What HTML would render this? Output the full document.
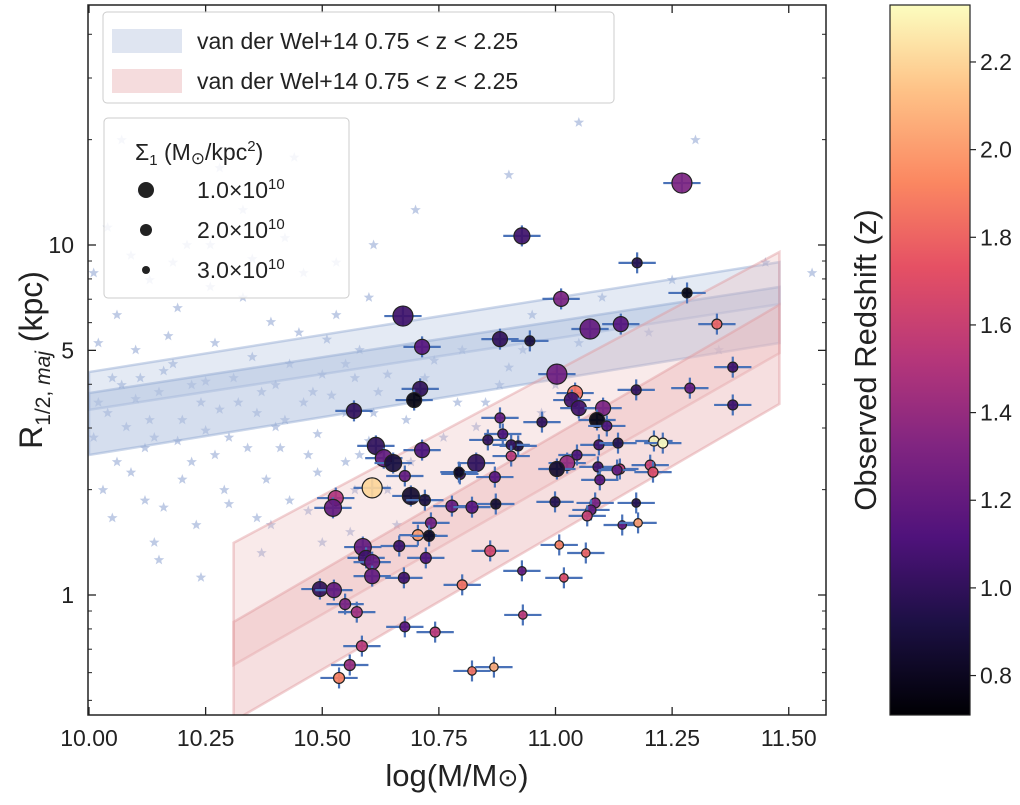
<!DOCTYPE html>
<html><head><meta charset="utf-8"><style>
html,body{margin:0;padding:0;background:#fff}
svg{display:block;font-family:"Liberation Sans","DejaVu Sans",sans-serif}
</style></head><body>
<svg id="chart" width="1020" height="805" viewBox="0 0 1020 805" xmlns="http://www.w3.org/2000/svg">
<defs>
<clipPath id="plotclip"><rect x="88" y="5" width="738" height="710"/></clipPath>
<linearGradient id="magma" x1="0" y1="1" x2="0" y2="0">
<stop offset="0" stop-color="#000004"/><stop offset="0.13" stop-color="#1c1044"/><stop offset="0.25" stop-color="#4f127b"/><stop offset="0.38" stop-color="#812581"/><stop offset="0.5" stop-color="#b5367a"/><stop offset="0.63" stop-color="#e55064"/><stop offset="0.75" stop-color="#fb8761"/><stop offset="0.88" stop-color="#fec287"/><stop offset="1" stop-color="#fcfdbf"/>
</linearGradient>
</defs>
<g id="plot" clip-path="url(#plotclip)"></g>
<rect x="88" y="5" width="738" height="710" fill="none" stroke="#222" stroke-width="1.5"/>
<g id="axes"></g>
<text x="457" y="786" font-size="31" text-anchor="middle" fill="#222">log(M/M<tspan font-size="25">⊙</tspan>)</text>
<text transform="translate(42,360) rotate(-90)" font-size="32" text-anchor="middle" fill="#222">R<tspan font-size="21" dy="8">1/2, <tspan font-style="italic">maj</tspan></tspan><tspan dy="-8"> (kpc)</tspan></text>

<g>
<rect x="103" y="12" width="511" height="91" rx="4" fill="#fff" fill-opacity="0.85" stroke="#ccc"/>
<rect x="112" y="29" width="70" height="24" fill="#dfe5f1"/>
<text x="197" y="49" font-size="23" fill="#222">van der Wel+14 0.75 &lt; z &lt; 2.25</text>
<rect x="112" y="69" width="70" height="24" fill="#f5dcdd"/>
<text x="197" y="89" font-size="23" fill="#222">van der Wel+14 0.75 &lt; z &lt; 2.25</text>
</g>
<g>
<rect x="104" y="118" width="245" height="180" rx="4" fill="#fff" fill-opacity="0.85" stroke="#ccc"/>
<text x="135" y="160" font-size="23" fill="#222">Σ<tspan font-size="15" dy="5">1</tspan><tspan dy="-5"> (M</tspan><tspan font-size="17" dy="4">⊙</tspan><tspan dy="-4">/kpc</tspan><tspan font-size="15" dy="-9">2</tspan><tspan dy="9">)</tspan></text>
<circle cx="146" cy="190" r="8" fill="#222"/>
<text x="197" y="198" font-size="23" fill="#222">1.0×10<tspan font-size="15" dy="-9">10</tspan></text>
<circle cx="146" cy="230" r="6" fill="#222"/>
<text x="197" y="238" font-size="23" fill="#222">2.0×10<tspan font-size="15" dy="-9">10</tspan></text>
<circle cx="146" cy="270" r="4" fill="#222"/>
<text x="197" y="278" font-size="23" fill="#222">3.0×10<tspan font-size="15" dy="-9">10</tspan></text>
</g>
<rect x="890" y="5" width="80" height="710" fill="url(#magma)" stroke="#222" stroke-width="1.2"/>
<g id="cbar"></g>
<text transform="translate(876,360) rotate(-90)" font-size="31" text-anchor="middle" fill="#222">Observed Redshift (z)</text>
</svg>
<script>
// ---- data ----
const xTicks = [10.00, 10.25, 10.50, 10.75, 11.00, 11.25, 11.50];
const xTickLabels = ["10.00","10.25","10.50","10.75","11.00","11.25","11.50"];
const yTicks = [1, 5, 10];
const yTickLabels = ["1","5","10"];
const cbarTicks = [0.8,1.0,1.2,1.4,1.6,1.8,2.0,2.2];
const cbarTickLabels = ["0.8","1.0","1.2","1.4","1.6","1.8","2.0","2.2"];
// van der Wel bands (log10 R at left/right mass)
const blueMass = [10.0, 11.48];
const blueBand1Upper = [0.637, 0.951];
const blueBand1Lower = [0.529, 0.831];
const blueBand2Upper = [0.577, 0.880];
const blueBand2Lower = [0.400, 0.720];
const redMass = [10.31, 11.48];
const redBand1Upper = [0.149, 0.980];
const redBand1Lower = [-0.200, 0.691];
const redBand2Upper = [-0.077, 0.829];
const redBand2Lower = [-0.360, 0.546];
// sample galaxies
const galMass = [11.271,10.928,11.175,11.282,11.012,11.140,11.346,10.673,10.881,11.074,11.003,11.042,11.035,11.050,11.102,11.089,11.110,11.173,11.288,11.380,11.380,11.211,11.230,11.093,11.134,11.046,11.025,11.003,11.091,11.138,11.132,11.203,11.209,11.095,10.999,11.173,11.085,11.076,11.068,11.143,11.177,11.008,11.065,11.018,10.971,10.714,10.710,10.697,10.568,10.945,10.881,10.887,10.855,10.920,10.615,10.714,10.632,10.652,10.830,10.905,10.905,10.677,10.795,10.793,10.870,10.607,10.529,10.523,10.690,10.720,10.778,10.821,10.872,10.733,10.705,10.729,10.665,10.587,10.594,10.607,10.722,10.860,10.607,10.675,10.495,10.525,10.549,10.574,10.800,10.928,10.930,10.677,10.742,10.585,10.559,10.536,10.821,10.868];
const galLogR = [1.177,1.026,0.949,0.863,0.846,0.774,0.774,0.797,0.731,0.760,0.631,0.577,0.557,0.534,0.534,0.500,0.483,0.586,0.591,0.651,0.543,0.440,0.434,0.429,0.434,0.400,0.377,0.360,0.366,0.360,0.357,0.371,0.351,0.329,0.266,0.263,0.263,0.243,0.226,0.200,0.206,0.143,0.120,0.049,0.494,0.709,0.589,0.557,0.526,0.726,0.506,0.460,0.443,0.426,0.426,0.414,0.391,0.377,0.377,0.429,0.397,0.340,0.346,0.351,0.337,0.306,0.277,0.249,0.283,0.271,0.254,0.251,0.260,0.206,0.171,0.169,0.140,0.137,0.106,0.094,0.106,0.126,0.054,0.049,0.017,0.014,-0.026,-0.049,0.029,0.069,-0.057,-0.091,-0.106,-0.146,-0.200,-0.237,-0.217,-0.206];
const galZ = [1.3,1.05,0.95,0.75,1.3,1.15,1.8,1.05,1.0,1.2,1.25,1.85,1.05,1.05,1.3,0.75,1.1,1.0,1.2,1.05,1.05,2.3,2.35,1.05,0.95,1.1,1.4,0.85,1.05,1.55,1.2,1.6,1.7,1.15,0.95,0.95,1.3,1.2,1.6,1.2,2.0,1.9,1.8,1.7,1.0,1.15,1.0,0.75,1.0,0.9,1.2,1.1,1.0,0.9,1.0,1.1,1.2,0.9,1.0,1.0,1.55,1.2,1.05,0.8,1.15,2.2,1.5,1.2,0.85,0.9,1.2,1.15,0.85,1.25,2.0,0.8,1.05,1.2,1.05,1.2,1.1,1.65,1.2,1.05,1.0,1.2,1.3,1.45,1.85,1.2,1.55,1.15,1.55,1.55,1.4,1.9,1.85,2.05];
const galSigma = [1,1.8,3,3,2,2,3,1,2,1,1,2,2,2,2,2,3,3,3,3,3,3,3,3,3,3,2,2,3,3,3,3,3,3,3,3.3,3,3,3,3.3,3.3,3.3,3.3,3.3,3,2,2,2,2,3,3,3,3,3,1.6,2,1.6,1.6,1.6,3,3,2.8,2.8,3,2.8,1,2,1.6,1.6,2.8,2.6,2.6,3,2.8,2.8,2.8,2.8,1.6,2,2,2.8,2.8,2,2.8,2,2,2.8,2.8,3,3.3,3.3,3,3,2.8,2.8,2.8,3.3,3.3];
// comparison sample (van der Wel stars)
const starMass = [10.02,10.05,10.08,10.1,10.12,10.15,10.18,10.2,10.22,10.25,10.27,10.3,10.32,10.35,10.38,10.4,10.42,10.45,10.47,10.5,10.52,10.55,10.58,10.6,10.62,10.03,10.06,10.09,10.13,10.16,10.19,10.23,10.26,10.29,10.33,10.36,10.39,10.43,10.46,10.49,10.53,10.56,10.6,10.64,10.68,10.72,10.76,10.8,10.85,10.9,10.95,11.0,11.05,11.1,11.2,11.25,11.35,11.45,11.55,10.04,10.11,10.21,10.33,10.44,10.7,10.9,11.05,11.3,10.07,10.28,10.55,10.66,10.5,10.14,
  10.01,10.04,10.07,10.1,10.13,10.16,10.19,10.22,10.25,10.28,10.31,10.34,10.37,10.4,10.43,10.46,10.49,10.52,10.55,10.58,10.61,10.64,10.02,10.06,10.11,10.14,10.17,10.24,10.27,10.36,10.41,10.48,10.51,10.57,10.63,10.69,10.74,10.79,10.83,10.88,10.93,10.97,10.01,10.09,10.18,10.26,10.35,10.42,10.53,10.61,10.05,10.12,10.2,10.3,10.39,10.47,10.57,10.15,10.24,10.37];
const starLogR = [0.55,0.62,0.48,0.7,0.42,0.58,0.66,0.5,0.38,0.61,0.72,0.45,0.55,0.68,0.33,0.6,0.5,0.75,0.4,0.63,0.28,0.52,0.7,0.44,0.58,0.3,0.8,0.35,0.9,0.25,0.82,0.2,0.88,0.3,0.85,0.22,0.78,0.27,0.92,0.35,0.8,0.18,0.85,0.3,0.5,0.62,0.45,0.7,0.55,0.65,0.8,0.6,0.72,0.85,0.75,0.9,0.7,0.95,0.92,1.05,1.15,1.0,1.1,1.25,1.1,1.2,1.35,1.3,1.3,1.22,0.38,0.2,0.15,0.15,
  0.45,0.52,0.6,0.56,0.5,0.64,0.44,0.6,0.47,0.53,0.62,0.42,0.58,0.48,0.66,0.55,0.46,0.57,0.66,0.4,0.52,0.63,0.72,0.38,0.62,0.45,0.74,0.55,0.4,0.52,0.42,0.58,0.73,0.62,0.41,0.38,0.67,0.55,0.48,0.6,0.7,0.52,0.92,0.97,0.95,1.0,0.96,1.02,0.95,1.0,0.22,0.27,0.33,0.26,0.2,0.24,0.3,0.1,0.05,0.12];
const massErr = 0.04, logRErr = 0.03;

// ---- scales ----
const X = m => 89 + (m - 10) * 466.5;
const Y = l => 595 - l * 350;
const ZMIN = 0.71, ZMAX = 2.33;
const CB = z => 715 - (z - ZMIN) / (ZMAX - ZMIN) * 710;
const NS = "http://www.w3.org/2000/svg";
function mk(tag, attrs, parent){ const e = document.createElementNS(NS, tag); for (const k in attrs) e.setAttribute(k, attrs[k]); parent.appendChild(e); return e; }
const magmaStops = [[0,[0,0,4]],[0.13,[28,16,68]],[0.25,[79,18,123]],[0.38,[129,37,129]],[0.5,[181,54,122]],[0.63,[229,80,100]],[0.75,[251,135,97]],[0.88,[254,194,135]],[1,[252,253,191]]];
function magma(z){ let t = Math.max(0, Math.min(1, (z - ZMIN) / (ZMAX - ZMIN)));
  for (let i = 1; i < magmaStops.length; i++) { if (t <= magmaStops[i][0]) { const a = magmaStops[i-1], b = magmaStops[i]; const f = (t - a[0]) / (b[0] - a[0]); const c = a[1].map((v, j) => Math.round(v + (b[1][j] - v) * f)); return `rgb(${c[0]},${c[1]},${c[2]})`; } }
  return "rgb(252,253,191)"; }

const plot = document.getElementById('plot');
// stars
starMass.forEach((m, i) => {
  const cx = X(m), cy = Y(starLogR[i]); const r = 5.5, r2 = 2.3; let d = "";
  for (let k = 0; k < 10; k++) { const a = -Math.PI/2 + k*Math.PI/5; const rr = k%2 ? r2 : r; d += (k ? "L" : "M") + (cx + rr*Math.cos(a)).toFixed(1) + "," + (cy + rr*Math.sin(a)).toFixed(1); }
  const s = mk('path', {d: d + "Z", fill: "#7f98cc", 'fill-opacity': 0.5}, plot);
  
  
});
function band(mass, up, lo, fill, op, stroke, name){
  const pts = [[X(mass[0]),Y(up[0])],[X(mass[1]),Y(up[1])],[X(mass[1]),Y(lo[1])],[X(mass[0]),Y(lo[0])]];
  const p = mk('polygon', {points: pts.map(p => p.join(',')).join(' '), fill: fill, 'fill-opacity': op, stroke: stroke, 'stroke-opacity': 0.45, 'stroke-width': 2.5}, plot);
  
  
}
band(blueMass, blueBand1Upper, blueBand1Lower, "#b3c3e0", 0.35, "#8fa6d0", "blue-band-1");
band(blueMass, blueBand2Upper, blueBand2Lower, "#b3c3e0", 0.55, "#8fa6d0", "blue-band-2");
band(redMass, redBand1Upper, redBand1Lower, "#eab8bb", 0.3, "#e09a9e", "red-band-1");
band(redMass, redBand2Upper, redBand2Lower, "#eab8bb", 0.45, "#e09a9e", "red-band-2");
// galaxies
galMass.forEach((m, i) => {
  const cx = X(m), cy = Y(galLogR[i]); const ex = massErr * 466.5, ey = logRErr * 350;
  const g = mk('g', {}, plot);
  
  
  mk('line', {x1: cx-ex, x2: cx+ex, y1: cy, y2: cy, stroke: "#4a72b8", 'stroke-width': 2.2}, g);
  mk('line', {x1: cx, x2: cx, y1: cy-ey, y2: cy+ey, stroke: "#4a72b8", 'stroke-width': 2.2}, g);
  const r = 12.5 - 2.5 * galSigma[i];
  mk('circle', {cx: cx, cy: cy, r: r, fill: magma(galZ[i]), 'fill-opacity': 0.92, stroke: "#222", 'stroke-width': 1.2}, g);
});
// axes
const axes = document.getElementById('axes');
xTicks.forEach((t, i) => {
  const x = X(t);
  mk('line', {x1: x, x2: x, y1: 715, y2: 707, stroke: "#222", 'stroke-width': 1.3}, axes);
  mk('line', {x1: x, x2: x, y1: 5, y2: 13, stroke: "#222", 'stroke-width': 1.3}, axes);
  const tx = mk('text', {x: x, y: 746, 'font-size': 23, 'text-anchor': 'middle', fill: '#222'}, axes);
  tx.textContent = xTickLabels[i];
  
  
});
yTicks.forEach((t, i) => {
  const y = Y(Math.log10(t));
  mk('line', {x1: 88, x2: 96, y1: y, y2: y, stroke: "#222", 'stroke-width': 1.3}, axes);
  mk('line', {x1: 826, x2: 818, y1: y, y2: y, stroke: "#222", 'stroke-width': 1.3}, axes);
  const tx = mk('text', {x: 74, y: y + 8, 'font-size': 23, 'text-anchor': 'end', fill: '#222'}, axes);
  tx.textContent = yTickLabels[i];
  
  
});
[0.5,0.6,0.7,0.8,0.9,2,3,4,6,7,8,9,20,30,40].forEach(v => {
  const y = Y(Math.log10(v)); if (y < 5 || y > 715) return;
  mk('line', {x1: 88, x2: 92, y1: y, y2: y, stroke: "#222", 'stroke-width': 1}, axes);
  mk('line', {x1: 826, x2: 822, y1: y, y2: y, stroke: "#222", 'stroke-width': 1}, axes);
});
const cbar = document.getElementById('cbar');
cbarTicks.forEach((t, i) => {
  const y = CB(t);
  mk('line', {x1: 970, x2: 976, y1: y, y2: y, stroke: "#222", 'stroke-width': 1.2}, cbar);
  const tx = mk('text', {x: 980, y: y + 8, 'font-size': 23, fill: '#222'}, cbar);
  tx.textContent = cbarTickLabels[i];
  
  
});
</script>
</body></html>
